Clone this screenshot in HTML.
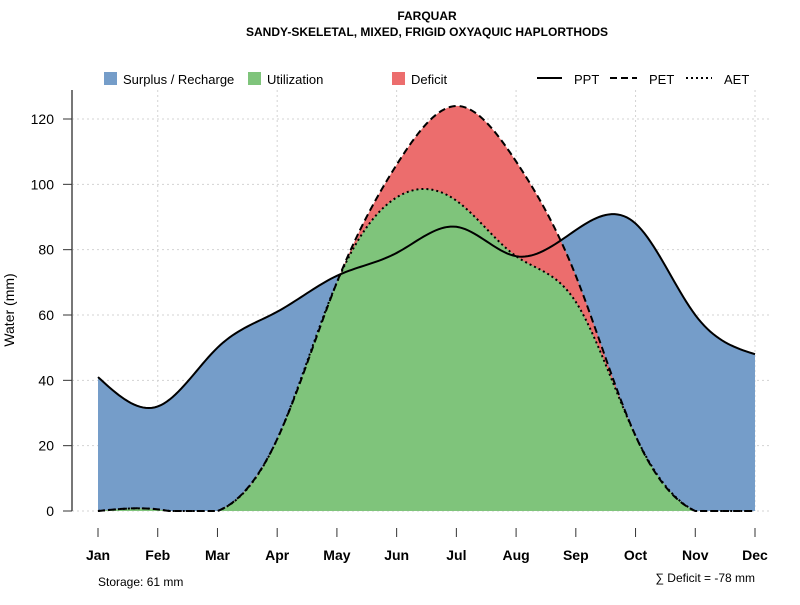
<!DOCTYPE html>
<html><head><meta charset="utf-8"><style>
body{margin:0;background:#fff}
svg{font-family:"Liberation Sans",sans-serif}
</style></head><body>
<svg id="chart" width="800" height="600" viewBox="0 0 800 600" xmlns="http://www.w3.org/2000/svg">
<text x="427" y="20" text-anchor="middle" font-size="12" font-weight="bold">FARQUAR</text>
<text x="427" y="36" text-anchor="middle" font-size="12" font-weight="bold">SANDY-SKELETAL, MIXED, FRIGID OXYAQUIC HAPLORTHODS</text>
<g id="grid"></g>
<g id="areas"></g>
<g id="lines"></g>
<g id="axes"></g>
<text transform="translate(14,310) rotate(-90)" text-anchor="middle" font-size="14">Water (mm)</text>
<g font-size="13">
 <g><rect x="104" y="72" width="13" height="13" fill="#759dc9"/><text x="123" y="84">Surplus / Recharge</text></g>
 <g><rect x="248" y="72" width="13" height="13" fill="#7fc47b"/><text x="267" y="84">Utilization</text></g>
 <g><rect x="392" y="72" width="13" height="13" fill="#ec6d6d"/><text x="411" y="84">Deficit</text></g>
 <g><line x1="537" y1="78" x2="562" y2="78" stroke="#000" stroke-width="2"/><text x="574" y="84">PPT</text></g>
 <g><line x1="610" y1="78" x2="637" y2="78" stroke="#000" stroke-width="2" stroke-dasharray="7,4"/><text x="649" y="84">PET</text></g>
 <g><line x1="686" y1="78" x2="712" y2="78" stroke="#000" stroke-width="2" stroke-dasharray="2,3"/><text x="724" y="84">AET</text></g>
</g>
<text x="98" y="586" font-size="12">Storage: 61 mm</text>
<text x="755" y="582" text-anchor="end" font-size="12">∑ Deficit = -78 mm</text>
</svg>
<script>
const months=["Jan","Feb","Mar","Apr","May","Jun","Jul","Aug","Sep","Oct","Nov","Dec"];
const ppt=[41,32,50,61,72,79,87,78,86,88,60,48];
const pet=[0,0.5,0,22,70,106,124,107,72,23,0,0];
const aet=[0,0.5,0,22,70,96,95,78,64,23,0,0];
const yTicks=[0,20,40,60,80,100,120];
const NS="http://www.w3.org/2000/svg";
const X=i=>98+i*(755-98)/11;
const Y=v=>511-v*(392/120);
function mk(t,a,p){const e=document.createElementNS(NS,t);for(const k in a)e.setAttribute(k,a[k]);p.appendChild(e);return e;}
function spline(ys){const n=ys.length,a=ys.slice(),al=[0],l=[1],mu=[0],z=[0],c=new Array(n).fill(0),b=[],d=[];
 for(let i=1;i<n-1;i++)al[i]=3*(a[i+1]-2*a[i]+a[i-1]);
 for(let i=1;i<n-1;i++){l[i]=4-mu[i-1];mu[i]=1/l[i];z[i]=(al[i]-z[i-1])/l[i];}
 for(let j=n-2;j>=0;j--){c[j]=(j>0?z[j]:0)-(mu[j]||0)*c[j+1];b[j]=a[j+1]-a[j]-(c[j+1]+2*c[j])/3;d[j]=(c[j+1]-c[j])/3;}
 const pts=[];for(let j=0;j<n-1;j++)for(let s=0;s<20;s++){const t=s/20;pts.push([j+t,Math.max(0,a[j]+b[j]*t+c[j]*t*t+d[j]*t*t*t)]);}
 pts.push([n-1,a[n-1]]);return pts;}
function pathOf(pts){return pts.map((p,i)=>(i?"L":"M")+X(p[0]).toFixed(2)+","+Y(p[1]).toFixed(2)).join("");}
function area(pts){return pathOf(pts)+"L"+X(11)+","+Y(0)+"L"+X(0)+","+Y(0)+"Z";}
const grid=document.getElementById("grid"),areas=document.getElementById("areas"),lines=document.getElementById("lines"),axes=document.getElementById("axes");
yTicks.forEach(v=>{const g=mk("line",{x1:72,x2:772,y1:Y(v),y2:Y(v),stroke:"#d3d3d3","stroke-dasharray":"2,3"},grid);

});
months.forEach((m,i)=>{if(i%2==1){const g=mk("line",{x1:X(i),x2:X(i),y1:90,y2:511,stroke:"#d3d3d3","stroke-dasharray":"2,3"},grid);

}});
const sPPT=spline(ppt),sPET=spline(pet),sAET=spline(aet);
const aPpt=mk("path",{d:area(sPPT),fill:"#759dc9"},areas);


const aPet=mk("path",{d:area(sPET),fill:"#ec6d6d"},areas);


const aAet=mk("path",{d:area(sAET),fill:"#7fc47b"},areas);


const lPpt=mk("path",{d:pathOf(sPPT),fill:"none",stroke:"#000","stroke-width":2},lines);


const lPet=mk("path",{d:pathOf(sPET),fill:"none",stroke:"#000","stroke-width":2,"stroke-dasharray":"7,4"},lines);


const lAet=mk("path",{d:pathOf(sAET),fill:"none",stroke:"#000","stroke-width":2,"stroke-dasharray":"2,3"},lines);


const ya=mk("line",{x1:72,x2:72,y1:90,y2:511,stroke:"#777","stroke-width":2},axes);


yTicks.forEach(v=>{mk("line",{x1:63,x2:72,y1:Y(v),y2:Y(v),stroke:"#333"},axes);
const t=mk("text",{x:54,y:Y(v)+5,"text-anchor":"end","font-size":14},axes);t.textContent=v;

});
months.forEach((m,i)=>{mk("line",{x1:X(i),x2:X(i),y1:528,y2:537,stroke:"#333"},axes);
const t=mk("text",{x:X(i),y:560,"text-anchor":"middle","font-size":14,"font-weight":"bold"},axes);t.textContent=m;

});
</script>
</body></html>
